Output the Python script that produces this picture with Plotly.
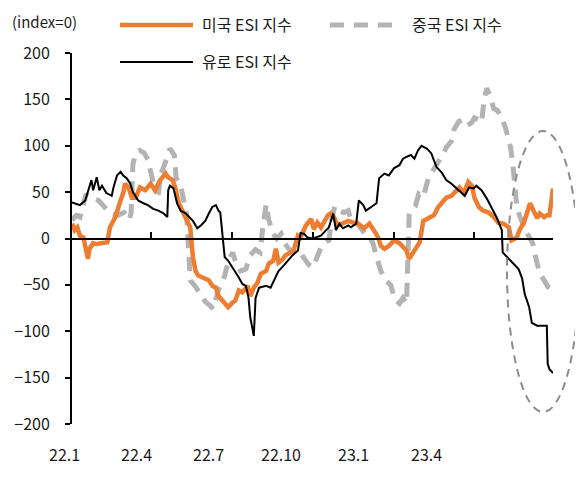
import pandas as pd
import plotly.graph_objects as go

# ESI 지수 (index=0), x값은 2022-01-01 기준 경과 일수
us_days = [0, 3, 6, 9, 13, 16, 18, 20, 24, 28,
           34, 40, 43, 49, 55, 58, 60, 64, 68, 72,
           77, 83, 89, 94, 100, 106, 109, 114, 117, 121,
           125, 131, 134, 137, 140, 143, 149, 155, 159, 163,
           166, 171, 174, 177, 182, 185, 189, 193, 199, 202,
           206, 210, 214, 220, 223, 228, 231, 234, 239, 242,
           248, 251, 256, 259, 265, 271, 274, 278, 282, 286,
           290, 293, 297, 301, 307, 313, 319, 324, 331, 337,
           342, 347, 350, 354, 359, 365, 371, 375, 379, 382,
           387, 390, 394, 398, 404, 410, 415, 419, 424, 430,
           436, 439, 444, 449, 453, 456, 461, 466, 472, 478,
           483, 489, 495, 498, 504, 507, 512, 515, 519, 523,
           527, 530, 535, 538, 541, 545]
us_esi = [16, 9, 12, 3, 1, -10, -22, -11, -5, -6,
          -5, -4, 12, 23, 41, 49, 59, 55, 44, 44,
          55, 52, 59, 52, 63, 70, 66, 63, 55, 38,
          30, 19, 12, -20, -35, -40, -42, -45, -51, -53,
          -62, -67, -70, -74, -69, -67, -56, -58, -51, -62,
          -53, -48, -38, -35, -27, -24, -11, -26, -22, -18,
          -15, -13, 3, 1, 14, 21, 10, 17, 12, 19,
          25, 27, 23, 14, 17, 19, 17, 16, 11, 16,
          9, 1, -8, -11, -8, -2, -5, -9, -13, -22,
          -15, -11, -4, 19, 22, 25, 34, 38, 44, 46,
          52, 55, 49, 61, 57, 44, 34, 30, 28, 23,
          17, 16, 12, -2, 1, 9, 17, 25, 38, 30,
          22, 27, 23, 25, 25, 54]

cn_days = [0, 5, 9, 13, 16, 19, 30, 36, 43, 52,
           59, 65, 67, 69, 72, 77, 82, 86, 89, 91,
           94, 98, 101, 105, 108, 111, 116, 118, 123, 127,
           130, 132, 134, 140, 146, 151, 156, 160, 166, 168,
           173, 177, 182, 187, 191, 197, 202, 208, 213, 216,
           220, 223, 228, 232, 237, 241, 246, 251, 257, 262,
           268, 273, 278, 282, 288, 291, 295, 298, 303, 308,
           313, 316, 322, 326, 332, 337, 341, 345, 350, 355,
           361, 366, 371, 375, 379, 380, 381, 382, 384, 389,
           393, 398, 404, 409, 414, 420, 424, 430, 433, 438,
           443, 448, 453, 456, 461, 464, 467, 470, 473, 478,
           482, 486, 491, 494, 497, 500, 501, 502, 504, 507,
           511, 514, 519, 522, 524, 528, 530, 535, 539, 545]
cn_esi = [20, 25, 23, 40, 48, 45, 41, 35, 27, 25,
          28, 20, 28, 80, 92, 95, 92, 85, 70, 60,
          52, 50, 70, 80, 88, 97, 90, 65, 58, 38,
          25, -10, -45, -52, -60, -68, -72, -76, -55, -50,
          -40, -25, -15, -30, -35, -33, -18, -12, -15, 10,
          37, 20, 5, 0, 5, -5, -12, -13, -12, -20,
          -28, -31, -20, -10, -3, -2, 25, 35, 30, 28,
          30, 20, 18, 12, 5, 2, -5, -20, -35, -45,
          -50, -66, -70, -64, -70, -40, -10, 25, 30, 35,
          48, 45, 66, 73, 80, 90, 98, 105, 118, 126,
          128, 122, 125, 130, 128, 125, 150, 162, 155, 140,
          138, 132, 120, 110, 98, 75, 60, 45, 35, 25,
          15, 8, 0, -5, -15, -30, -38, -45, -52, -55]

eu_days = [0, 9, 15, 22, 24, 28, 31, 34, 39, 45,
           47, 51, 55, 58, 62, 66, 69, 75, 81, 86,
           92, 98, 104, 108, 109, 111, 115, 119, 123, 129,
           137, 142, 146, 151, 155, 159, 163, 166, 168, 171,
           173, 177, 182, 185, 189, 193, 197, 200, 202, 206,
           208, 212, 220, 225, 229, 234, 240, 246, 250, 256,
           259, 263, 267, 273, 276, 282, 288, 291, 296, 299,
           303, 307, 313, 316, 322, 325, 330, 333, 339, 345,
           348, 354, 359, 365, 371, 375, 379, 384, 388, 392,
           396, 402, 407, 413, 419, 424, 430, 436, 441, 445,
           450, 455, 458, 464, 470, 475, 481, 487, 488, 493,
           500, 506, 510, 513, 518, 521, 527, 538, 539, 541,
           545]
eu_esi = [39, 36, 41, 63, 52, 66, 52, 57, 49, 46,
          55, 68, 72, 68, 65, 59, 50, 41, 38, 36,
          32, 30, 27, 23, 52, 57, 54, 38, 30, 27,
          19, 11, 14, 19, 27, 34, 36, 30, 28, 1,
          -20, -24, -31, -35, -42, -49, -51, -64, -85, -105,
          -64, -53, -51, -53, -45, -35, -29, -22, -18, -13,
          6, 5, 1, 0, 1, 3, 9, 12, 27, 9,
          16, 11, 14, 12, 16, 41, 36, 30, 34, 38,
          65, 70, 68, 76, 79, 86, 88, 90, 86, 95,
          100, 97, 92, 77, 71, 63, 59, 54, 49, 46,
          55, 54, 57, 52, 43, 34, 23, 9, -15, -20,
          -27, -33, -43, -60, -74, -91, -94, -94, -135, -141,
          -145]

x_labels = ["22.1", "22.4", "22.7", "22.10", "23.1", "23.4"]

base = pd.Timestamp("2022-01-01")
us_x = base + pd.to_timedelta(us_days, unit="D")
cn_x = base + pd.to_timedelta(cn_days, unit="D")
eu_x = base + pd.to_timedelta(eu_days, unit="D")

FONT = "Noto Sans CJK KR"
ORANGE = "#ED7D31"
GRAY = "#B3B3B3"

# page has an 8px body margin, so the figure is 8px smaller than the window
OFF = 8
W, H = 583 - OFF, 491 - OFF
L, R, T, B = 72 - OFF, 2, 53 - OFF, 67
pw = W - L - R
ph = H - T - B


def px(x):
    # page pixel -> paper x
    return (x - OFF - L) / pw


def py(y):
    # page pixel -> paper y
    return (H - B - (y - OFF)) / ph


fig = go.Figure()
fig.add_trace(go.Scatter(x=cn_x, y=cn_esi, mode="lines", name="중국 ESI 지수",
                         line=dict(color=GRAY, width=5, dash="14px,9px"), showlegend=False))
fig.add_trace(go.Scatter(x=us_x, y=us_esi, mode="lines", name="미국 ESI 지수",
                         line=dict(color=ORANGE, width=4.5), showlegend=False))
fig.add_trace(go.Scatter(x=eu_x, y=eu_esi, mode="lines", name="유로 ESI 지수",
                         line=dict(color="black", width=2), showlegend=False))

shapes = [
    # 오른쪽 점선 타원
    dict(type="circle", xref="paper", yref="paper",
         x0=px(507), x1=px(579), y0=py(412), y1=py(131),
         line=dict(color="#8C8C8C", width=2, dash="8px,6px")),
    # 범례
    dict(type="line", xref="paper", yref="paper", x0=px(120), x1=px(193), y0=py(25), y1=py(25),
         line=dict(color=ORANGE, width=4.5)),
    dict(type="line", xref="paper", yref="paper", x0=px(330), x1=px(398), y0=py(25), y1=py(25),
         line=dict(color=GRAY, width=5, dash="14px,10px")),
    dict(type="line", xref="paper", yref="paper", x0=px(120), x1=px(193), y0=py(62), y1=py(62),
         line=dict(color="black", width=2)),
]

annotations = [
    dict(text="(index=0)", xref="paper", yref="paper", x=px(10), y=py(22),
         xanchor="left", yanchor="middle", showarrow=False, font=dict(size=15)),
    dict(text="미국 ESI 지수", xref="paper", yref="paper", x=px(200), y=py(24),
         xanchor="left", yanchor="middle", showarrow=False),
    dict(text="중국 ESI 지수", xref="paper", yref="paper", x=px(410), y=py(24),
         xanchor="left", yanchor="middle", showarrow=False),
    dict(text="유로 ESI 지수", xref="paper", yref="paper", x=px(200), y=py(61),
         xanchor="left", yanchor="middle", showarrow=False),
]
for i, lab in enumerate(x_labels):
    annotations.append(dict(text=lab, xref="paper", yref="paper", x=px(64 + 72.4 * i), y=py(454),
                            xanchor="center", yanchor="middle", showarrow=False))

fig.update_layout(
    width=W, height=H,
    margin=dict(l=L, r=R, t=T, b=B),
    paper_bgcolor="white", plot_bgcolor="white",
    font=dict(family=FONT, size=16, color="#1a1a1a"),
    shapes=shapes,
    annotations=annotations,
    xaxis=dict(type="date", domain=[0, px(553)], range=[us_x[0], us_x[-1]],
               anchor="free", position=0.5, side="bottom",
               showline=True, linecolor="black", linewidth=2,
               ticks="inside", ticklen=6, tickwidth=2, tickcolor="black",
               tick0="2022-01-01", dtick="M3", showticklabels=False,
               showgrid=False, zeroline=False),
    yaxis=dict(range=[-200, 200], dtick=50, showline=True, linecolor="black", linewidth=2,
               ticks="outside", ticklen=5, tickwidth=2, tickcolor="black",
               ticklabelstandoff=12, showgrid=False, zeroline=False),
)

fig.write_html("out.html")
